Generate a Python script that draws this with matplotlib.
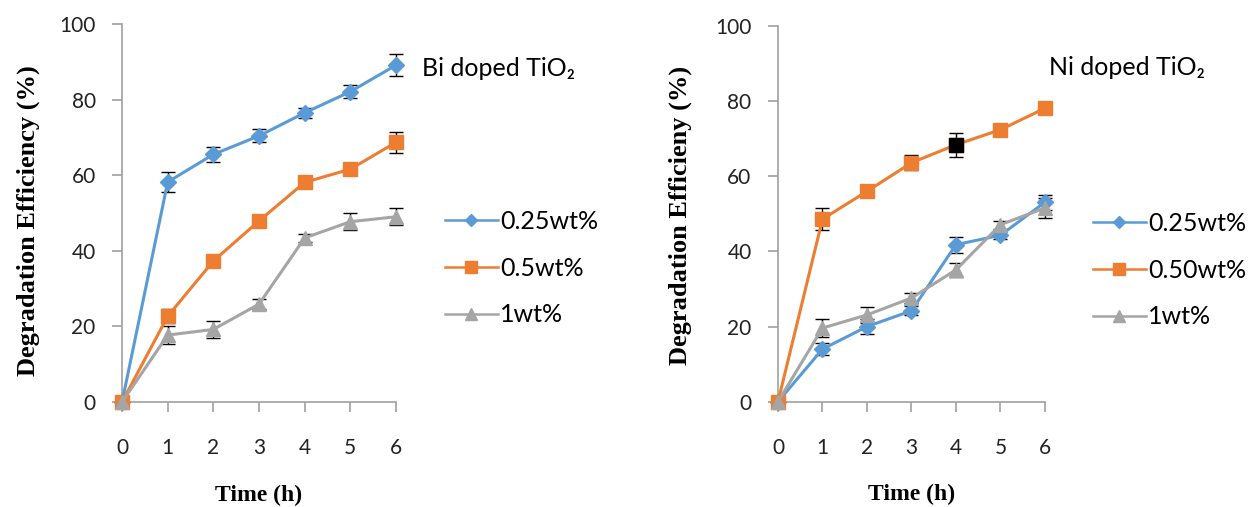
import matplotlib
import matplotlib.pyplot as plt

matplotlib.rcParams["font.family"] = ["Lato", "DejaVu Sans"]

time_h = [0, 1, 2, 3, 4, 5, 6]

# Bi doped TiO2
bi_labels = ["0.25wt%", "0.5wt%", "1wt%"]
bi_025 = [0, 58.2, 65.5, 70.4, 76.5, 82.1, 89.1]
bi_025_err = [0, 2.6, 2.0, 1.7, 1.3, 1.7, 2.9]
bi_05 = [0, 22.7, 37.3, 47.9, 58.1, 61.6, 68.7]
bi_05_err = [0, 1.9, 1.0, 1.0, 1.0, 1.0, 2.8]
bi_1 = [0, 17.7, 19.2, 25.9, 43.4, 47.7, 49.0]
bi_1_err = [0, 2.3, 2.2, 1.4, 1.0, 2.2, 2.2]

# Ni doped TiO2
ni_labels = ["0.25wt%", "0.50wt%", "1wt%"]
ni_025 = [0, 14.0, 20.0, 24.2, 41.8, 44.3, 53.1]
ni_025_err = [0, 1.6, 1.9, 1.2, 2.1, 1.0, 2.0]
ni_050 = [0, 48.6, 56.0, 63.6, 68.4, 72.4, 78.1]
ni_050_err = [0, 2.9, 1.0, 2.0, 3.2, 1.0, 1.0]
ni_1 = [0, 19.6, 23.1, 27.6, 35.1, 47.1, 51.6]
ni_1_err = [0, 2.3, 2.2, 1.3, 1.8, 1.0, 2.7]

BLUE = "#5b9bd5"
ORANGE = "#ed7d31"
GRAY = "#a5a5a5"


def style_axes(ax, ylabel, ylab_size, ylab_x, ylab_y):
    ax.set_xlim(0, 6)
    ax.set_ylim(0, 100)
    ax.set_xticks(time_h)
    ax.set_yticks([0, 20, 40, 60, 80, 100])
    for s in ["top", "right"]:
        ax.spines[s].set_visible(False)
    for s in ["left", "bottom"]:
        ax.spines[s].set_color("#a0a0a0")
        ax.spines[s].set_linewidth(1.2)
    ax.tick_params(direction="out", length=7, width=1.2, color="#a0a0a0",
                   labelsize=15, labelcolor="#222222")
    ax.tick_params(axis="x", pad=19)
    ax.tick_params(axis="y", pad=12)
    ax.set_xlabel("Time (h)", family="Liberation Serif", fontweight="bold",
                  fontsize=17)
    ax.set_ylabel(ylabel, family="Liberation Serif",
                  fontweight="bold", fontsize=ylab_size)
    ax.xaxis.set_label_coords(0.5, -0.22)
    ax.yaxis.set_label_coords(ylab_x, ylab_y)


def draw(ax, y, err, color, marker, ms, label):
    ax.errorbar(time_h, y, yerr=err, color=color, marker=marker,
                markersize=ms, linewidth=2.2, ecolor="black", elinewidth=1,
                capsize=5, capthick=1, label=label, clip_on=False, zorder=3)


def add_legend(ax, x, y):
    h, l = ax.get_legend_handles_labels()
    leg = ax.legend([k[0] for k in h], l, loc="center left",
                    bbox_to_anchor=(x, y), frameon=False, fontsize=18,
                    labelspacing=0.95, handlelength=2.1, handletextpad=0.1,
                    borderpad=0, borderaxespad=0, markerscale=0.8)
    for line in leg.get_lines():
        line.set_linewidth(1.8)


fig = plt.figure(figsize=(12.48, 5.07), dpi=100)
ax1 = fig.add_axes([0.0978, 0.2071, 0.2195, 0.7456])
ax2 = fig.add_axes([0.6234, 0.2077, 0.2139, 0.7410])

draw(ax1, bi_025, bi_025_err, BLUE, "D", 8, bi_labels[0])
draw(ax1, bi_05, bi_05_err, ORANGE, "s", 10, bi_labels[1])
draw(ax1, bi_1, bi_1_err, GRAY, "^", 10, bi_labels[2])
style_axes(ax1, "Degradation Efficiency (%)", 19, -0.30, 0.48)
ax1.text(1.095, 0.883, "Bi doped TiO\u2082", transform=ax1.transAxes,
         fontsize=18, ha="left", va="center")
add_legend(ax1, 1.179, 0.354)

draw(ax2, ni_025, ni_025_err, BLUE, "D", 8, ni_labels[0])
draw(ax2, ni_050, ni_050_err, ORANGE, "s", 10, ni_labels[1])
draw(ax2, ni_1, ni_1_err, GRAY, "^", 10, ni_labels[2])
# one highlighted point in black
ax2.plot(time_h[4], ni_050[4], marker="s", markersize=10, color="black",
         linestyle="none", zorder=4)
style_axes(ax2, "Degradation Efficieny (%)", 19, -0.322, 0.497)
ax2.text(1.015, 0.89, "Ni doped TiO\u2082", transform=ax2.transAxes,
         fontsize=18, ha="left", va="center")
add_legend(ax2, 1.18, 0.35)

fig.savefig("out.png", dpi=100)
